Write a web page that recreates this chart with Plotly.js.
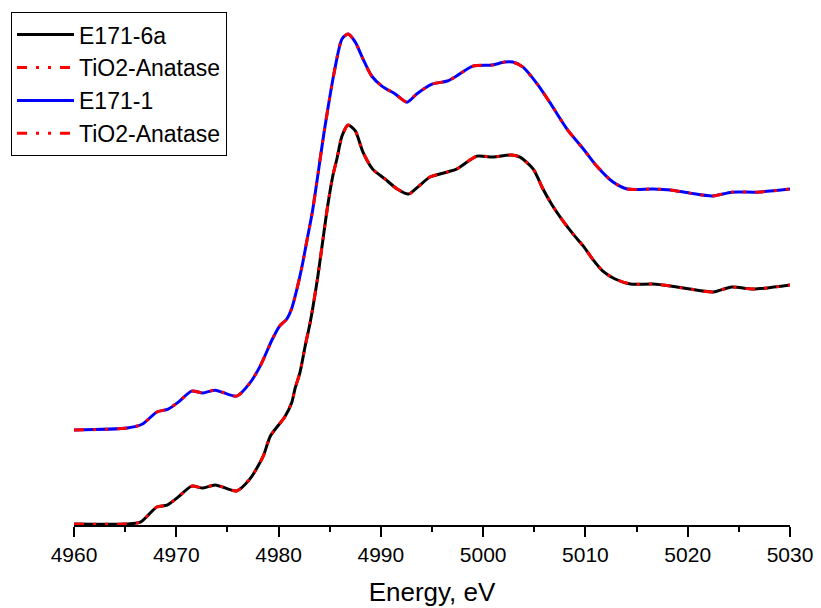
<!DOCTYPE html>
<html>
<head>
<meta charset="utf-8">
<script src="https://cdn.plot.ly/plotly-3.0.1.min.js"></script>
<style>html,body{margin:0;padding:0;background:#fff;}#chart{width:821px;height:608px;}</style>
</head>
<body>
<div id="chart"></div>
<script>
// Energy (eV) and normalised absorbance
const energyA = [4960, 4965, 4966.5, 4968.1, 4969.1, 4970.2, 4971.5, 4972.6, 4973.8, 4975.9, 4977.2, 4978.5, 4979.2, 4980.6, 4981.3, 4981.6, 4982.1, 4982.6, 4983.1, 4983.8, 4984.25, 4984.8, 4985.3, 4985.7, 4986.2, 4986.8, 4987.5, 4988.25, 4989.2, 4990.4, 4991.6, 4992.7, 4993.6, 4994.8, 4996.5, 4997.4, 4999.4, 5000.9, 5002.8, 5003.6, 5004.9, 5005.85, 5006.8, 5007.8, 5008.8, 5009.8, 5010.7, 5011.7, 5012.9, 5014.4, 5016.6, 5018.3, 5020.2, 5022.5, 5024.3, 5026.4, 5030];
const e171_6a = [0.0, 0.0, 0.008, 0.071, 0.079, 0.113, 0.158, 0.150, 0.163, 0.138, 0.188, 0.283, 0.367, 0.446, 0.508, 0.563, 0.633, 0.742, 0.842, 1.021, 1.158, 1.325, 1.450, 1.521, 1.617, 1.663, 1.638, 1.550, 1.479, 1.438, 1.396, 1.375, 1.404, 1.446, 1.467, 1.479, 1.533, 1.529, 1.538, 1.529, 1.479, 1.396, 1.325, 1.263, 1.208, 1.158, 1.104, 1.054, 1.021, 1.000, 1.000, 0.992, 0.979, 0.967, 0.988, 0.979, 0.996];
const anataseA = [0.0, 0.0, 0.008, 0.071, 0.079, 0.113, 0.158, 0.150, 0.163, 0.138, 0.188, 0.283, 0.367, 0.446, 0.508, 0.563, 0.633, 0.742, 0.842, 1.021, 1.158, 1.325, 1.450, 1.521, 1.617, 1.663, 1.638, 1.550, 1.479, 1.438, 1.396, 1.375, 1.404, 1.446, 1.467, 1.479, 1.533, 1.529, 1.538, 1.529, 1.479, 1.396, 1.325, 1.263, 1.208, 1.158, 1.104, 1.054, 1.021, 1.000, 1.000, 0.992, 0.979, 0.967, 0.988, 0.979, 0.996];

const energyB = [4960, 4965.2, 4966.7, 4968.1, 4969.2, 4970.2, 4971.5, 4972.6, 4973.8, 4975.9, 4977.2, 4978.2, 4979.4, 4980.1, 4980.8, 4981.3, 4981.8, 4982.3, 4982.8, 4983.3, 4984.5, 4985.5, 4986.2, 4986.8, 4987.5, 4988.25, 4989.1, 4990.1, 4991.4, 4992.55, 4993.5, 4995.0, 4996.5, 4997.4, 4999.0, 5000.9, 5002.1, 5002.9, 5003.9, 5005.3, 5006.5, 5008.2, 5009.8, 5011.1, 5012.7, 5014.1, 5016.6, 5018.3, 5020.2, 5022.4, 5024.3, 5026.8, 5030];
const e171_1 = [0.392, 0.400, 0.417, 0.467, 0.479, 0.508, 0.554, 0.546, 0.558, 0.533, 0.588, 0.658, 0.771, 0.825, 0.854, 0.900, 0.980, 1.075, 1.188, 1.300, 1.646, 1.896, 2.021, 2.042, 2.008, 1.938, 1.867, 1.825, 1.792, 1.758, 1.792, 1.833, 1.846, 1.867, 1.908, 1.913, 1.925, 1.925, 1.904, 1.833, 1.758, 1.646, 1.563, 1.492, 1.425, 1.396, 1.396, 1.392, 1.379, 1.367, 1.383, 1.383, 1.396];
const anataseB = [0.392, 0.400, 0.417, 0.467, 0.479, 0.508, 0.554, 0.546, 0.558, 0.533, 0.588, 0.658, 0.771, 0.825, 0.854, 0.900, 0.980, 1.075, 1.188, 1.300, 1.646, 1.896, 2.021, 2.042, 2.008, 1.938, 1.867, 1.825, 1.792, 1.758, 1.792, 1.833, 1.846, 1.867, 1.908, 1.913, 1.925, 1.925, 1.904, 1.833, 1.758, 1.646, 1.563, 1.492, 1.425, 1.396, 1.396, 1.392, 1.379, 1.367, 1.383, 1.383, 1.396];

const names = ["E171-6a", "TiO2-Anatase", "E171-1", "TiO2-Anatase"];
const xTicks = [4960, 4970, 4980, 4990, 5000, 5010, 5020, 5030];

const redDash = "10px,9px,3px,9px,3px,9px";
const traces = [
  {x: energyA, y: e171_6a, name: names[0], legendgroup: "g1", mode: "lines", line: {color: "#000000", width: 3, shape: "spline", smoothing: 0.7}},
  {x: energyA, y: anataseA, name: names[1], legendgroup: "g2", mode: "lines", line: {color: "#ff0000", width: 3, dash: redDash, shape: "spline", smoothing: 0.7}},
  {x: energyB, y: e171_1, name: names[2], legendgroup: "g3", mode: "lines", line: {color: "#0000ff", width: 3, shape: "spline", smoothing: 0.7}},
  {x: energyB, y: anataseB, name: names[3], legendgroup: "g4", mode: "lines", line: {color: "#ff0000", width: 3, dash: redDash, shape: "spline", smoothing: 0.7}}
];

const layout = {
  width: 821, height: 608,
  margin: {l: 74, r: 31, t: 10, b: 83, autoexpand: false},
  paper_bgcolor: "#ffffff", plot_bgcolor: "#ffffff",
  font: {family: "Liberation Sans, Arial, sans-serif", color: "#000000"},
  showlegend: true,
  legend: {
    xref: "container", yref: "container", x: 0.0134, y: 0.98, xanchor: "left", yanchor: "top",
    bordercolor: "#000000", borderwidth: 1, bgcolor: "#ffffff",
    font: {size: 23, color: "#000000"}, traceorder: "grouped", tracegroupgap: 0,
    itemwidth: 57
  },
  xaxis: {
    range: [4960, 5030], tickvals: xTicks, ticktext: xTicks.map(String),
    showline: true, linecolor: "#000000", linewidth: 2,
    ticks: "outside", ticklen: 10, tickwidth: 2, tickcolor: "#000000",
    minor: {dtick: 5, ticks: "outside", ticklen: 5, tickwidth: 2, tickcolor: "#000000"},
    showgrid: false, zeroline: false,
    tickfont: {size: 21},
    title: {text: "Energy, eV", font: {size: 26}, standoff: 18}
  },
  yaxis: {
    range: [-0.004, 2.142], visible: false, showgrid: false, zeroline: false
  }
};

Plotly.newPlot("chart", traces, layout, {displayModeBar: false, staticPlot: true});
</script>
</body>
</html>
